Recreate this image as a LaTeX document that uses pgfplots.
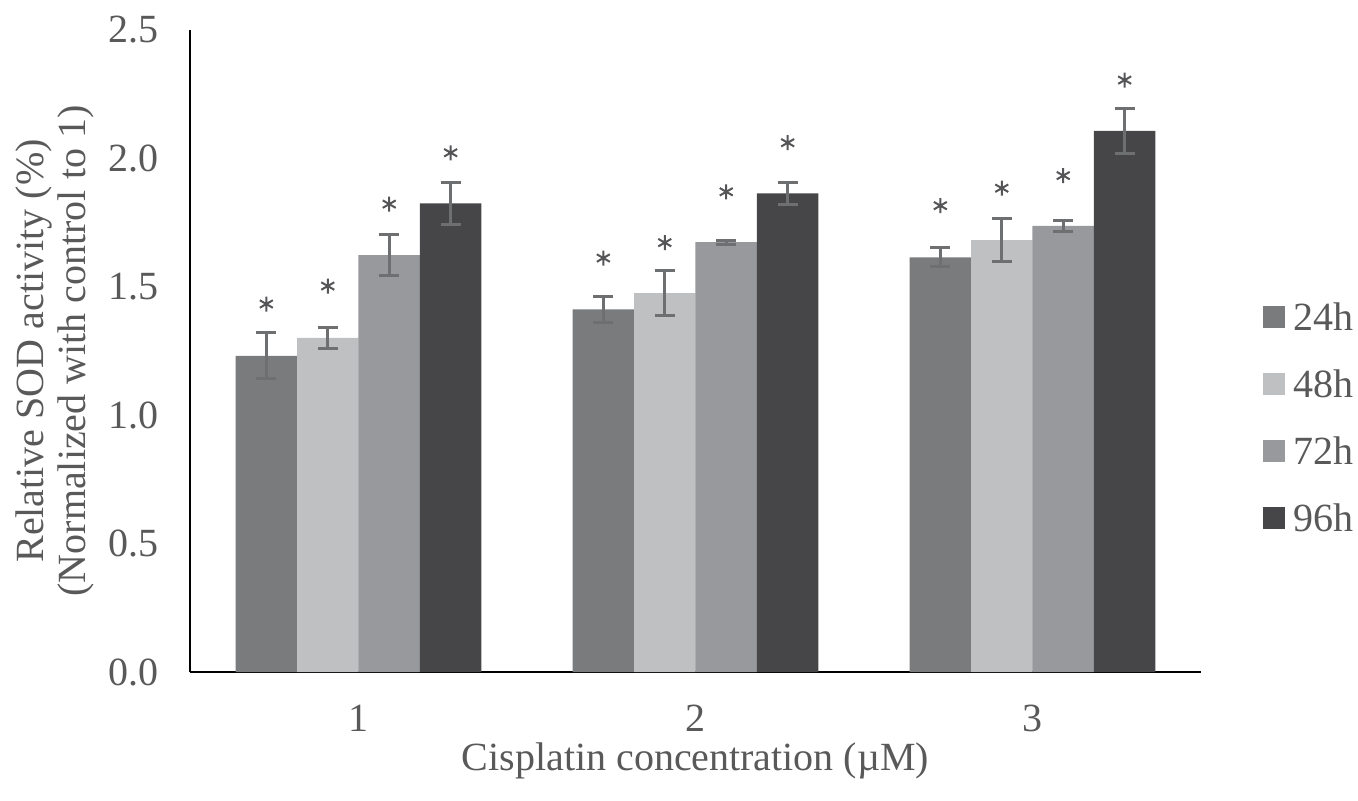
\documentclass[border=0pt]{standalone}
\usepackage{fontspec}
\setmainfont{Liberation Serif}
\usepackage{pgfplots}
\pgfplotsset{compat=1.18}
\usepackage{pgfplotstable}

\definecolor{c24}{RGB}{122,123,125}
\definecolor{c48}{RGB}{191,192,194}
\definecolor{c72}{RGB}{152,153,156}
\definecolor{c96}{RGB}{70,70,73}
\definecolor{errc}{RGB}{110,111,113}
\definecolor{starc}{RGB}{85,85,88}
\definecolor{textc}{RGB}{89,89,89}

% x = category position + bar offset, y = mean, e = error
\pgfplotstableread{
x y e
0.7265 1.231 0.090
1.7265 1.412 0.052
2.7265 1.615 0.037
}\tA
\pgfplotstableread{
x y e
0.9088 1.301 0.041
1.9088 1.475 0.087
2.9088 1.682 0.083
}\tB
\pgfplotstableread{
x y e
1.0912 1.623 0.079
2.0912 1.674 0.008
3.0912 1.737 0.022
}\tC
\pgfplotstableread{
x y e
1.2735 1.825 0.082
2.2735 1.864 0.044
3.2735 2.107 0.089
}\tD
% significance asterisks
\pgfplotstableread{
x s
0.7265 1.433
0.9088 1.503
1.0912 1.822
1.2735 2.022
1.7265 1.612
1.9088 1.672
2.0912 1.870
2.2735 2.061
2.7265 1.816
2.9088 1.884
3.0912 1.933
3.2735 2.305
}\tS

\pgfplotsset{
  mybar/.style={ybar, bar width=30.75pt, bar shift=0pt, draw=none, fill=#1, forget plot,
    error bars/.cd, y dir=both, y explicit,
    error bar style={line width=1.5pt, color=errc},
    error mark options={rotate=90, mark size=5pt, line width=1.5pt, color=errc}},
}

\begin{document}
\begin{tikzpicture}
\begin{axis}[
  scale only axis,
  width=505.5pt, height=321pt,
  xmin=0.5, xmax=3.5, ymin=0, ymax=2.5,
  axis x line=bottom, axis y line=left,
  axis line style={-, line width=1.4pt, black},
  xtick={1,2,3}, ytick={0,0.5,1,1.5,2,2.5},
  major tick length=0pt,
  /pgf/number format/assume math mode=true,
  yticklabel style={/pgf/number format/.cd, fixed, fixed zerofill, precision=1, /tikz/.cd,
    inner sep=0pt, xshift=-15.5pt},
  xticklabel style={inner sep=0pt, yshift=-16.5pt},
  tick label style={font=\fontsize{20}{24}\selectfont, text=textc},
  label style={font=\fontsize{20}{21}\selectfont, text=textc},
  xlabel={Cisplatin concentration (µM)},
  xlabel style={at={(axis description cs:0.5,0)}, anchor=base, yshift=-49pt, inner sep=0pt},
  ylabel={Relative SOD activity (\%)\\(Normalized with control to 1)},
  ylabel style={at={(axis description cs:-0.1335,0.5)}, anchor=center, align=center, inner sep=0pt},
  legend style={at={(axis description cs:1.0613,0.397)}, anchor=west, draw=none, fill=none,
    inner sep=0pt, outer sep=0pt, row sep=20pt,
    font=\fontsize{20}{24}\selectfont, text=textc,
    nodes={inner sep=0pt, text height=13.5pt, text depth=0pt},
    /tikz/every odd column/.append style={column sep=4.5pt}},
  legend cell align=left,
  legend image code/.code={\fill[#1, draw=none] (0pt,-5.5pt) rectangle (11pt,5.5pt);},
]
\addplot[mybar=c24] table[x=x, y=y, y error=e] {\tA};
\addplot[mybar=c48] table[x=x, y=y, y error=e] {\tB};
\addplot[mybar=c72] table[x=x, y=y, y error=e] {\tC};
\addplot[mybar=c96] table[x=x, y=y, y error=e] {\tD};
\addplot[only marks, mark=asterisk, mark size=3.75pt, mark options={line width=1pt, color=starc}, forget plot]
  table[x=x, y=s] {\tS};
\addlegendimage{fill=c24, draw=none}
\addlegendentry{24h}
\addlegendimage{fill=c48, draw=none}
\addlegendentry{48h}
\addlegendimage{fill=c72, draw=none}
\addlegendentry{72h}
\addlegendimage{fill=c96, draw=none}
\addlegendentry{96h}
\coordinate (O) at (rel axis cs:0,0);
\end{axis}
\pgfresetboundingbox
\path[use as bounding box] (O) ++(-95pt,-64pt) rectangle ++(679pt,400pt);
\end{tikzpicture}
\end{document}
